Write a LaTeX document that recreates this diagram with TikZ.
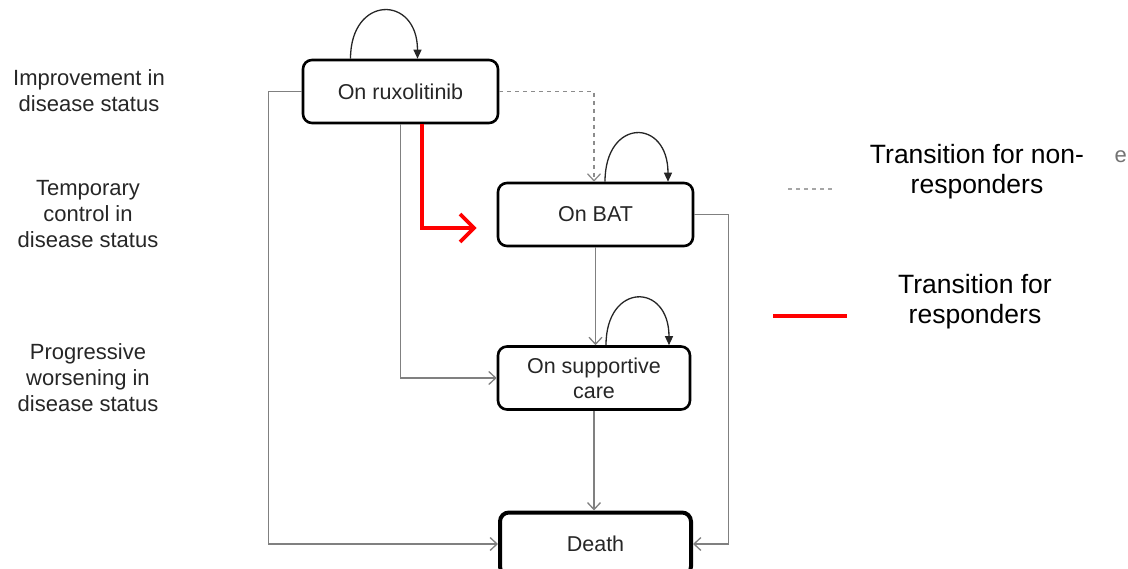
\documentclass[tikz,border=0pt]{standalone}
\usepackage{fontspec}
\setmainfont{Liberation Sans}
\usetikzlibrary{arrows.meta,positioning}

\tikzset{st/.style={draw, rounded corners=9pt, line width=2.6pt, minimum width=195pt, minimum height=63pt, align=center, font=\fontsize{21.5}{25}\selectfont, text=black!85},
    lbl/.style={align=center, font=\fontsize{22}{26}\selectfont, text=black!85},
    leg/.style={align=center, font=\fontsize{26.5}{30}\selectfont},
    tr/.style={draw=black!50, line width=1.3pt, -{Straight Barb[length=7pt,width=13pt]}},
    selfloop/.style={draw=black!85, line width=1.3pt, -{Triangle[length=9pt,width=8pt]}}}

\begin{document}
\begin{tikzpicture}[x=1pt, y=-1pt]
    \useasboundingbox (0,0) rectangle (1128,569);

    \node[st] (rux) at (400.5,91.5) {On ruxolitinib};
    \node[st] (bat) at ([xshift=195pt, yshift=-123pt] rux) {On BAT};
    \node[st, minimum width=192pt] (supp) at ([xshift=-1.5pt, yshift=-163.5pt] bat) {On supportive\\care};
    \node[st, line width=4pt, minimum width=191pt] (death) at ([xshift=1.5pt, yshift=-166pt] supp) {Death};

    \node[lbl] (improve) at (89,91) {Improvement in\\disease status};
    \node[lbl] (temp) at (88,214) {Temporary\\control in\\disease status};
    \node[lbl] (worse) at (88,378) {Progressive\\worsening in\\disease status};

    \draw[selfloop] ([xshift=-50pt]rux.north) .. controls +(0,-64) and +(0,-64) .. ([xshift=17pt]rux.north);
    \draw[selfloop] ([xshift=9.5pt]bat.north) .. controls +(0,-64) and +(0,-64) .. ([xshift=72.5pt]bat.north);
    \draw[selfloop] ([xshift=12pt]supp.north) .. controls +(0,-63) and +(0,-63) .. ([xshift=75pt]supp.north);

    \draw[tr, draw=black!45, dash pattern=on 4pt off 4pt] (rux.east) -| ([xshift=-1.5pt]bat.north);

    \draw[tr] (rux.west) -- ([xshift=-33pt]rux.west) |- (death.west);

    \draw[tr] (rux.south) |- (supp.west);

    \draw[tr] (bat.south) -- (bat.south |- supp.north);

    \draw[tr] (bat.east) -- ([xshift=34pt]bat.east) |- (death.east);

    \draw[tr] (supp.south) -- (supp.south |- death.north);

    \draw[red, line width=3.8pt, -{Straight Barb[length=14pt,width=28pt]}] ([xshift=21.5pt]rux.south) |- ([xshift=-20pt, yshift=-13.5pt]bat.west);

    \coordinate (dashA) at (788,189);
    \coordinate (dashB) at (833,189);
    \coordinate (redA) at (773,316);
    \coordinate (redB) at (847,316);
    \draw[black!35, line width=1.5pt, dash pattern=on 4pt off 4pt] (dashA) -- (dashB);
    \draw[red, line width=4pt] (redA) -- (redB);

    \node[leg] (nonresp) at (977,172) {Transition for non-\\responders};
    \node[leg] (resp) at (975,302) {Transition for\\responders};
    \node[lbl, text=black!55, anchor=east, inner sep=1pt] (stray) at (1128,157) {e};
\end{tikzpicture}
\end{document}
